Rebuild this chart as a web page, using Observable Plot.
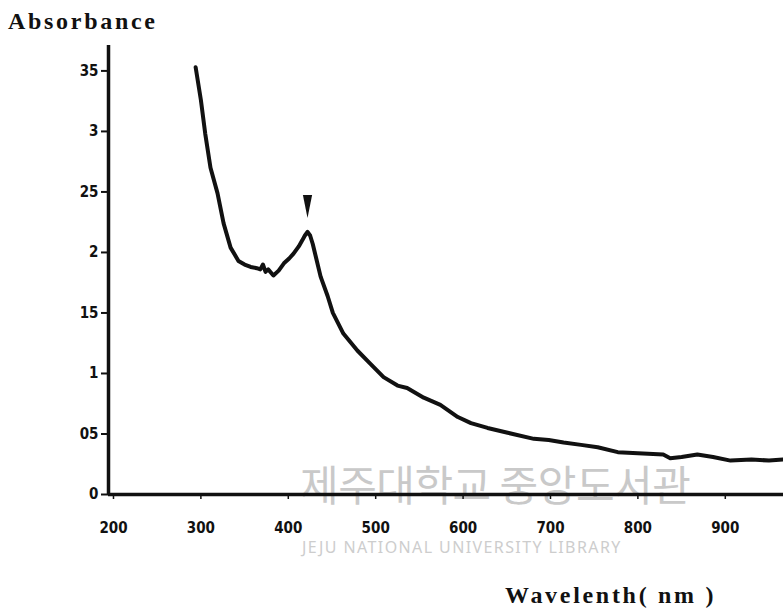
<!DOCTYPE html>
<html><head><meta charset="utf-8">
<script src="https://cdn.jsdelivr.net/npm/d3@7"></script>
<script src="https://cdn.jsdelivr.net/npm/@observablehq/plot@0.6"></script>
<style>
body{margin:0;background:#fff}
#wrap{position:relative;width:783px;height:615px;overflow:hidden;background:#fff}
#chart{position:absolute;left:0;top:0;z-index:2}
.title{position:absolute;font-family:"Liberation Serif","Times New Roman",serif;font-weight:bold;font-size:24px;line-height:1;color:#111;letter-spacing:2.7px;white-space:pre;z-index:3}
.wm{position:absolute;white-space:pre;color:#c9c9c9;z-index:1;line-height:1}
</style></head><body>
<div id="wrap">
  <div class="title" style="left:8px;top:9px">Absorbance</div>
  <div class="title" style="left:505px;top:583px">Wavelenth( nm )</div>
  <div class="wm" style="left:300px;top:462px;font-family:'Noto Sans CJK KR';font-size:42px;letter-spacing:-0.5px">제주대학교 중앙도서관</div>
  <div class="wm" style="left:302px;top:539px;font-family:'Noto Sans';font-size:16px;letter-spacing:1.4px;color:#cdcdcd">JEJU NATIONAL UNIVERSITY LIBRARY</div>
  <div id="chart"></div>
</div>
<script>
const wavelength = [294, 300, 305, 311, 319, 326, 334, 343, 350, 357, 364, 368, 371, 374, 377, 383, 389, 395, 401, 406, 412, 416, 419, 422, 425, 428, 432, 437, 445, 451, 463, 479, 494, 509, 525, 536, 555, 574, 594, 609, 628, 651, 681, 698, 715, 735, 754, 777, 800, 829, 837, 850, 868, 886, 906, 930, 950, 966];
const absorbance = [3.53, 3.26, 2.98, 2.70, 2.49, 2.24, 2.04, 1.93, 1.90, 1.88, 1.87, 1.86, 1.90, 1.84, 1.86, 1.81, 1.85, 1.91, 1.95, 1.99, 2.05, 2.10, 2.14, 2.17, 2.14, 2.07, 1.95, 1.80, 1.64, 1.50, 1.33, 1.19, 1.08, 0.97, 0.90, 0.88, 0.80, 0.74, 0.64, 0.59, 0.55, 0.51, 0.46, 0.45, 0.43, 0.41, 0.39, 0.35, 0.34, 0.33, 0.30, 0.31, 0.33, 0.31, 0.28, 0.29, 0.28, 0.29];
const xTicks = [200, 300, 400, 500, 600, 700, 800, 900];
const xTickLabels = ["200", "300", "400", "500", "600", "700", "800", "900"];
const yTicks = [0, 0.5, 1, 1.5, 2, 2.5, 3, 3.5];
const yTickLabels = ["0", "05", "1", "15", "2", "25", "3", "35"];
const peakWavelength = [422];
const peakMarkerLevel = [2.38];

const data = wavelength.map((w, i) => ({w, a: absorbance[i]}));
const peak = peakWavelength.map((w, i) => ({w, a: peakMarkerLevel[i]}));
const xMin = 194.3, xMax = 966.6;

const wedge = {
  draw(ctx, size) {
    const h = Math.sqrt(size);
    ctx.moveTo(-h * 0.2, -h * 0.5);
    ctx.lineTo(h * 0.2, -h * 0.5);
    ctx.lineTo(0, h * 0.5);
    ctx.closePath();
  }
};
const tickFont = '"Liberation Sans Narrow","DejaVu Sans Condensed",sans-serif';

const chart = Plot.plot({
  width: 783,
  height: 615,
  marginLeft: 108,
  marginRight: 0,
  marginTop: 45,
  marginBottom: 121,
  x: {domain: [xMin, xMax], axis: null},
  y: {domain: [0, 3.71], axis: null},
  style: {background: "transparent", color: "#111", fontFamily: tickFont},
  marks: [
    Plot.axisY(yTicks, {
      tickFormat: d => yTickLabels[yTicks.indexOf(d)],
      tickSize: 7, tickPadding: 3, fontSize: 15, fontWeight: "bold",
      strokeWidth: 2, label: null
    }),
    Plot.axisX(xTicks, {
      tickFormat: d => xTickLabels[xTicks.indexOf(d)],
      tickSize: 5, tickPadding: 23, fontSize: 15, fontWeight: "bold",
      strokeWidth: 1.5, label: null
    }),
    Plot.ruleX([xMin], {strokeWidth: 3.5, stroke: "#111"}),
    Plot.ruleY([0], {strokeWidth: 3.5, stroke: "#111"}),
    Plot.line(data, {x: "w", y: "a", stroke: "#111", strokeWidth: 4, strokeLinejoin: "round", strokeLinecap: "round"}),
    Plot.dot(peak, {x: "w", y: "a", r: 13, symbol: wedge, fill: "#111", stroke: null})
  ]
});
document.getElementById("chart").appendChild(chart);
</script>
</body></html>
